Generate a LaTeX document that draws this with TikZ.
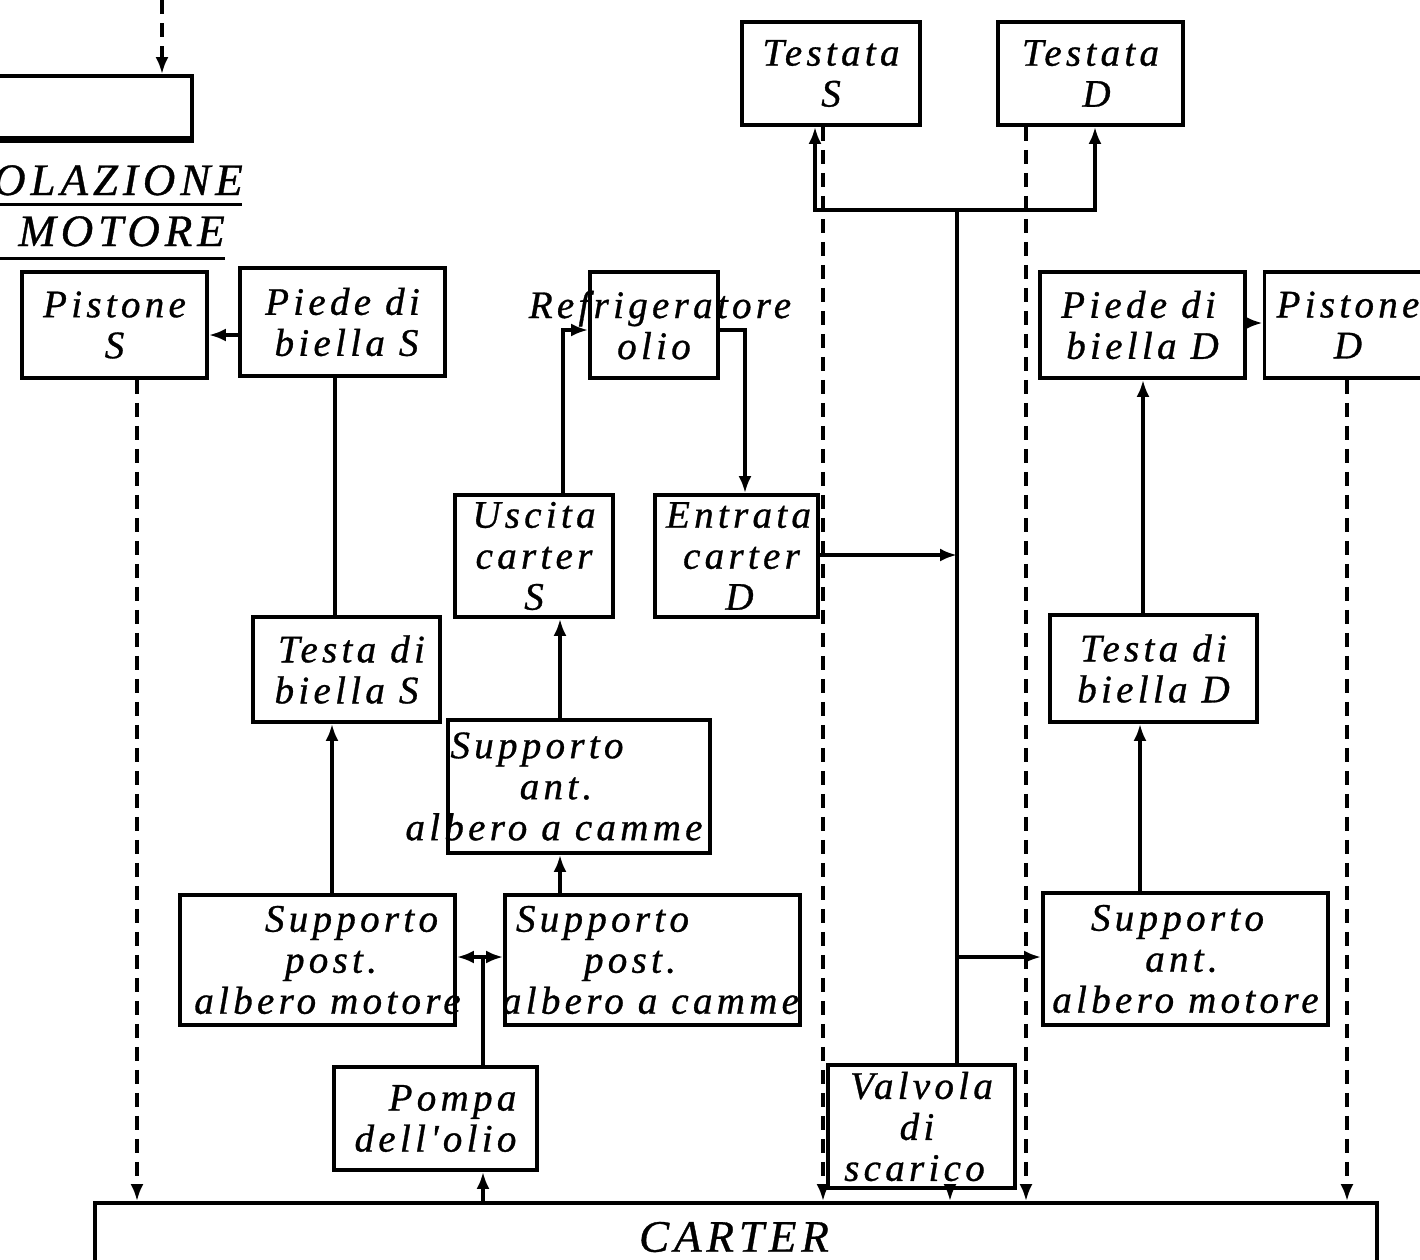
\documentclass[tikz,border=0pt]{standalone}
\usepackage{fontspec}
\setmainfont{Liberation Serif}
\newfontfamily\dfont[LetterSpace=11,FakeBold=0.8]{Liberation Serif}
\usetikzlibrary{arrows.meta}
\newcommand\dtext{\dfont\itshape\fontsize{39}{41}\selectfont}
\newcommand\htext{\dfont\itshape\fontsize{45}{48}\selectfont}
\newcommand\tline[2][0pt]{\hspace*{#1}\makebox[0pt]{#2}\hspace*{-#1}}
\begin{document}
\begin{tikzpicture}[x=1pt,y=-1pt,
  box/.style={draw, line width=3.8pt, inner sep=0pt, font=\dtext, align=center},
  ln/.style={line width=3.8pt},
  arr/.style={line width=3.8pt, -{Latex[length=17pt,width=13pt]}},
  darr/.style={line width=3.8pt, dash pattern=on 14pt off 9pt, -{Latex[length=17pt,width=13pt]}},
  txt/.style={font=\htext, inner sep=0pt}]
\useasboundingbox (0,0) rectangle (1420,1259);
\fill[white] (0,0) rectangle (1420,1259);

% boxes
\node[box, minimum width=212pt, minimum height=64pt] (topbox) at (86,108) {};
\node[box, minimum width=185pt, minimum height=106pt] (pistS) at (114.5,325) {\tline{Pistone}\\\tline{S}};
\node[box, minimum width=205pt, minimum height=108pt] (piedeS) at (342.5,322) {\tline{Piede di}\\\tline[4pt]{biella S}};
\node[box, minimum width=128pt, minimum height=106pt] (refr) at (654,325) {\tline[6pt]{Refrigeratore}\\\tline{olio}};
\node[box, minimum width=158pt, minimum height=122pt] (uscita) at (534,556) {\tline{Uscita}\\\tline{carter}\\\tline{S}};
\node[box, minimum width=163pt, minimum height=122pt] (entrata) at (736.5,556) {\tline[2pt]{Entrata}\\\tline[10pt]{carter}\\\tline[3pt]{D}};
\node[box, minimum width=178pt, minimum height=103pt] (testS) at (831,73.5) {\tline{Testata}\\\tline{S}};
\node[box, minimum width=185pt, minimum height=103pt] (testD) at (1090.5,73.5) {\tline{Testata}\\\tline[6pt]{D}};
\node[box, minimum width=205pt, minimum height=106pt] (piedeD) at (1142.5,325) {\tline[-4pt]{Piede di}\\\tline{biella D}};
\node[box, minimum width=175pt, minimum height=106pt] (pistD) at (1352,325) {\tline[-4pt]{Pistone}\\\tline[-4pt]{D}};
\node[box, minimum width=187pt, minimum height=105pt] (testaS) at (346.5,669.5) {\tline[5pt]{Testa di}\\\tline{biella S}};
\node[box, minimum width=207pt, minimum height=107pt] (testaD) at (1153.5,668.5) {\tline{Testa di}\\\tline{biella D}};
\node[box, minimum width=262pt, minimum height=133pt] (suppAC) at (579,786.5) {\tline[-42pt]{Supporto}\\\tline[-46pt]{ant.}\\\tline[-25pt]{albero a camme}};
\node[box, minimum width=275pt, minimum height=130pt] (suppPM) at (317.5,960) {\tline[34pt]{Supporto}\\\tline[27pt]{post.}\\\tline[10pt]{albero motore}};
\node[box, minimum width=295pt, minimum height=130pt] (suppPC) at (652.5,960) {\tline[-50pt]{Supporto}\\\tline[-45pt]{post.}\\\tline[-2pt]{albero a camme}};
\node[box, minimum width=285pt, minimum height=132pt] (suppAMot) at (1185.5,959) {\tline[-8pt]{Supporto}\\\tline[-8pt]{ant.}\\\tline{albero motore}};
\node[box, minimum width=203pt, minimum height=103pt] (pompa) at (435.5,1118.5) {\tline[17pt]{Pompa}\\\tline{dell'olio}};
\node[box, minimum width=187pt, minimum height=123pt] (valv) at (921.5,1126.5) {\tline{Valvola}\\\tline[-9pt]{di}\\\tline[-7pt]{scarico}};
\node[box, minimum width=1282pt, minimum height=74pt] (carter) at (736,1240) {};
\node[txt] (cartert) at (734,1237) {CARTER};

% heading text (cut at left edge, as in the reference)
\node[txt, anchor=base east] (tit1) at (243,195) {OLAZIONE};
\node[txt, anchor=base east] (tit2) at (225,246) {MOTORE};
\draw[line width=3pt] (0,204) -- (242,204);
\draw[line width=3pt] (0,258) -- (225,258);
\draw[line width=7pt] ([yshift=2pt]topbox.south west) -- ([yshift=2pt]topbox.south east);

% helper coordinates
\coordinate (cIn) at (162,0);
\coordinate (X332) at (332,0);
\coordinate (X335) at (335,0);
\coordinate (X560) at (560,0);
\coordinate (X563) at (563,0);
\coordinate (X745) at (745,0);
\coordinate (X815) at (815,0);
\coordinate (X1095) at (1095,0);
\coordinate (X1140) at (1140,0);
\coordinate (X1143) at (1143,0);
\coordinate (X950) at (950,0);
\coordinate (X137) at (137,0);
\coordinate (X823) at (823,0);
\coordinate (X1026) at (1026,0);
\coordinate (X1347) at (1347,0);
\coordinate (Y335) at (0,335);
\coordinate (Y330) at (0,330);
\coordinate (Y323) at (0,323);
\coordinate (Y555) at (0,555);
\coordinate (pj) at (483,957);
\coordinate (tTop) at (957,210);
\coordinate (tMid) at (957,555);
\coordinate (tLow) at (957,957);

% connectors
\draw[darr] (cIn) -- (topbox.north -| cIn);
\draw[arr] (piedeS.west |- Y335) -- (pistS.east |- Y335);
\draw[ln] (piedeS.south -| X335) -- (testaS.north -| X335);
\draw[arr] (suppPM.north -| X332) -- (testaS.south -| X332);
\draw[ln] (pompa.north -| pj) -- (pj);
\draw[arr] (pj) -- (suppPM.east |- pj);
\draw[arr] (pj) -- (suppPC.west |- pj);
\draw[arr] (carter.north -| pj) -- (pompa.south -| pj);
\draw[arr] (suppPC.north -| X560) -- (suppAC.south -| X560);
\draw[arr] (suppAC.north -| X560) -- (uscita.south -| X560);
\draw[arr] (uscita.north -| X563) |- (refr.west |- Y330);
\draw[arr] (refr.east |- Y330) -| (entrata.north -| X745);
\draw[ln] (tTop) -- (valv.north -| tTop);
\draw[arr] (tTop) -| (testS.south -| X815);
\draw[arr] (tTop) -| (testD.south -| X1095);
\draw[arr] (entrata.east |- Y555) -- (tMid);
\draw[arr] (tLow) -- (suppAMot.west |- tLow);
\draw[arr] (suppAMot.north -| X1140) -- (testaD.south -| X1140);
\draw[arr] (testaD.north -| X1143) -- (piedeD.south -| X1143);
\draw[arr] (piedeD.east |- Y323) -- (pistD.west |- Y323);
\draw[arr] (valv.south -| X950) -- (carter.north -| X950);
\draw[darr] (pistS.south -| X137) -- (carter.north -| X137);
\draw[darr] (testS.south -| X823) -- (carter.north -| X823);
\draw[darr] (testD.south -| X1026) -- (carter.north -| X1026);
\draw[darr] (pistD.south -| X1347) -- (carter.north -| X1347);
\end{tikzpicture}
\end{document}
